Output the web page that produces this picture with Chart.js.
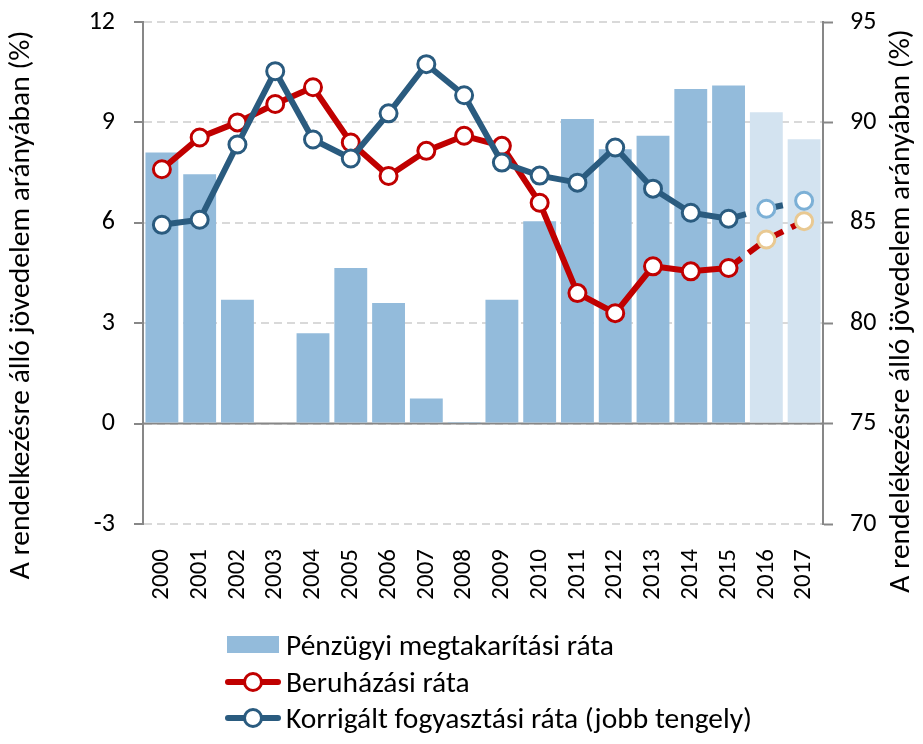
<!DOCTYPE html>
<html>
<head>
<meta charset="utf-8">
<script src="https://cdn.jsdelivr.net/npm/chart.js@4.4.1/dist/chart.umd.min.js"></script>
<style>
  html, body { margin: 0; padding: 0; background: #fff; }
  #wrap { position: relative; width: 923px; height: 744px; }
  #legend { position: absolute; left: 225px; top: 627px; font-family: Carlito, Lato, sans-serif; font-size: 29.5px; color: #000; }
  .row { display: flex; align-items: center; height: 36.5px; white-space: nowrap; }
  .icon { position: relative; width: 56px; height: 20px; margin-right: 5px; flex: none; }
  .box { position: absolute; left: 2px; top: 1px; width: 52px; height: 17px; }
  .ln { position: absolute; left: 0; top: 7px; width: 56px; height: 6px; border-radius: 3px; }
  .dot { position: absolute; left: 18px; top: 0; width: 14px; height: 14px; border: 3px solid; border-radius: 50%; background: #fff; }
</style>
</head>
<body>
<div id="wrap">
  <canvas id="chart" width="923" height="744"></canvas>
  <div id="legend"></div>
</div>
<script>
const FONT = "Carlito, Lato, sans-serif";

const YEARS = ["2000", "2001", "2002", "2003", "2004", "2005", "2006", "2007", "2008",
  "2009", "2010", "2011", "2012", "2013", "2014", "2015", "2016", "2017"];
// first year that is a forecast (lighter bars, dashed lines)
const FORECAST_FROM = 16;

const SAVINGS = [8.1, 7.45, 3.7, 0, 2.7, 4.65, 3.6, 0.75, 0.05, 3.7, 6.05, 9.1, 8.2, 8.6, 10.0, 10.1, 9.3, 8.5];
const INVESTMENT = [7.6, 8.55, 9.0, 9.55, 10.05, 8.4, 7.4, 8.15, 8.6, 8.3, 6.6, 3.9, 3.3, 4.7, 4.55, 4.65, 5.5, 6.05];
const CONSUMPTION = [84.9, 85.15, 88.9, 92.55, 89.15, 88.2, 90.45, 92.9, 91.35, 88.0, 87.35, 87.0, 88.75, 86.7, 85.5, 85.2, 85.7, 86.1];

const LEFT_TICKS = [-3, 0, 3, 6, 9, 12];
const RIGHT_TICKS = [70, 75, 80, 85, 90, 95];

const LABEL_SAVINGS = "Pénzügyi megtakarítási ráta";
const LABEL_INVEST = "Beruházási ráta";
const LABEL_CONS = "Korrigált fogyasztási ráta (jobb tengely)";
const TITLE_LEFT = "A rendelkezésre álló jövedelem arányában (%)";
const TITLE_RIGHT = "A rendelékezésre álló jövedelem arányában (%)";

const C_BAR = "#93bbdb";
const C_BAR_FC = "#d3e3f0";
const C_RED = "#c00000";
const C_RED_FC = "#e9c992";
const C_BLUE = "#2a5b7f";
const C_BLUE_FC = "#7cb0d6";
const C_AXIS = "#878787";
const C_GRID = "#d9d9d9";

const isFc = (i) => i >= FORECAST_FROM;

function rotatedText(ctx, text, x, y) {
  ctx.save();
  ctx.fillStyle = "#000";
  ctx.font = "29.5px " + FONT;
  ctx.textAlign = "center";
  ctx.textBaseline = "middle";
  ctx.translate(x, y);
  ctx.rotate(-Math.PI / 2);
  ctx.fillText(text, 0, 0);
  ctx.restore();
}

// axis titles + solid zero line
const extras = {
  id: "extras",
  beforeDatasetsDraw(chart) {
    const { ctx, chartArea } = chart;
    const y0 = chart.scales.y.getPixelForValue(0);
    ctx.save();
    ctx.strokeStyle = C_AXIS;
    ctx.lineWidth = 2;
    ctx.beginPath();
    ctx.moveTo(chartArea.left, y0);
    ctx.lineTo(chartArea.right, y0);
    ctx.stroke();
    ctx.restore();
  },
  afterDraw(chart) {
    rotatedText(chart.ctx, TITLE_LEFT, 22, 305);
    rotatedText(chart.ctx, TITLE_RIGHT, 902, 311);
  },
};

function lineSet(label, data, color, fcColor, axis, dash, order) {
  return {
    type: "line",
    label,
    data,
    yAxisID: axis,
    order,
    borderColor: color,
    borderWidth: 6,
    pointRadius: 8.5,
    pointBorderWidth: 3,
    pointBackgroundColor: "#fff",
    pointBorderColor: data.map((v, i) => (isFc(i) ? fcColor : color)),
    tension: 0,
    segment: {
      borderDash: (c) => (isFc(c.p1DataIndex) ? dash : undefined),
    },
  };
}

// fixed axis widths, no automatic label overflow padding
const fitY = (w) => (s) => {
  s.width = w;
  s.paddingTop = 0;
  s.paddingBottom = 0;
};

new Chart(document.getElementById("chart"), {
  data: {
    labels: YEARS,
    datasets: [
      lineSet(LABEL_CONS, CONSUMPTION, C_BLUE, C_BLUE_FC, "y2", [18, 20], 0),
      lineSet(LABEL_INVEST, INVESTMENT, C_RED, C_RED_FC, "y", [16, 9], 1),
      {
        type: "bar",
        label: LABEL_SAVINGS,
        data: SAVINGS,
        yAxisID: "y",
        order: 2,
        backgroundColor: SAVINGS.map((v, i) => (isFc(i) ? C_BAR_FC : C_BAR)),
        categoryPercentage: 1,
        barPercentage: 0.87,
      },
    ],
  },
  options: {
    responsive: false,
    animation: false,
    layout: { padding: { top: 22, left: 0, right: 0, bottom: 0 } },
    plugins: { legend: { display: false }, tooltip: { enabled: false } },
    scales: {
      x: {
        offset: true,
        grid: { display: false },
        border: { display: false },
        ticks: {
          minRotation: 90, maxRotation: 90, autoSkip: false, padding: 17,
          color: "#000", font: { family: FONT, size: 25 },
        },
        afterFit: (s) => { s.height = 220; s.paddingLeft = 0; s.paddingRight = 0; },
      },
      y: {
        position: "left",
        min: -3, max: 12,
        afterBuildTicks: (s) => { s.ticks = LEFT_TICKS.map((v) => ({ value: v })); },
        grid: { color: C_GRID, lineWidth: 2, tickColor: C_AXIS, tickWidth: 2, tickLength: 9 },
        border: { color: C_AXIS, width: 2, dash: [8, 5] },
        ticks: { color: "#000", padding: 19, font: { family: FONT, size: 26 } },
        afterFit: fitY(143),
      },
      y2: {
        position: "right",
        min: 70, max: 95,
        afterBuildTicks: (s) => { s.ticks = RIGHT_TICKS.map((v) => ({ value: v })); },
        grid: { drawOnChartArea: false, tickColor: C_AXIS, tickWidth: 2, tickLength: 10 },
        border: { color: C_AXIS, width: 2 },
        ticks: { color: "#000", padding: 17, font: { family: FONT, size: 26 } },
        afterFit: fitY(100),
      },
    },
  },
  plugins: [extras],
});

// legend below the plot
const legend = document.getElementById("legend");
function legendRow(label, iconHtml) {
  const row = document.createElement("div");
  row.className = "row";
  row.innerHTML = `<span class="icon">${iconHtml}</span><span>${label}</span>`;
  legend.appendChild(row);
}
legendRow(LABEL_SAVINGS, `<span class="box" style="background:${C_BAR}"></span>`);
legendRow(LABEL_INVEST, `<span class="ln" style="background:${C_RED}"></span><span class="dot" style="border-color:${C_RED}"></span>`);
legendRow(LABEL_CONS, `<span class="ln" style="background:${C_BLUE}"></span><span class="dot" style="border-color:${C_BLUE}"></span>`);
</script>
</body>
</html>
